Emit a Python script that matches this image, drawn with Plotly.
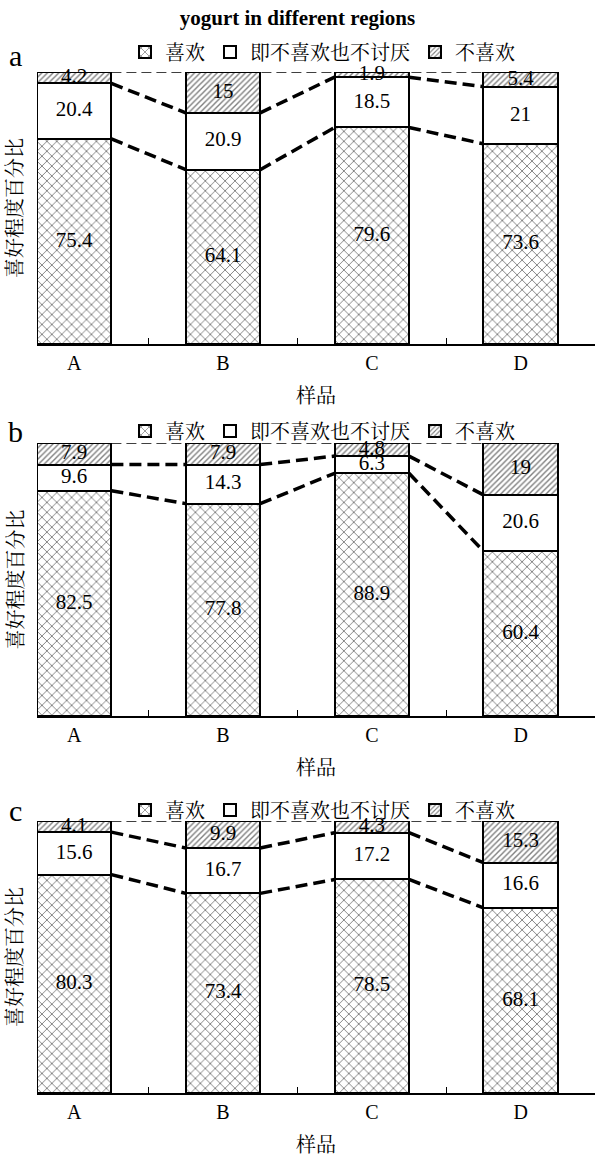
import plotly.graph_objects as go

categories = ["A", "B", "C", "D"]
series_names = ["喜欢", "即不喜欢也不讨厌", "不喜欢"]

like_a = [75.4, 64.1, 79.6, 73.6]
neutral_a = [20.4, 20.9, 18.5, 21]
dislike_a = [4.2, 15, 1.9, 5.4]

like_b = [82.5, 77.8, 88.9, 60.4]
neutral_b = [9.6, 14.3, 6.3, 20.6]
dislike_b = [7.9, 7.9, 4.8, 19]

like_c = [80.3, 73.4, 78.5, 68.1]
neutral_c = [15.6, 16.7, 17.2, 16.6]
dislike_c = [4.1, 9.9, 4.3, 15.3]

panel_labels = ["a", "b", "c"]
panels = [(like_a, neutral_a, dislike_a), (like_b, neutral_b, dislike_b), (like_c, neutral_c, dislike_c)]

H = 1155.0
SERIF = "Liberation Serif, Times New Roman, Noto Serif CJK SC, Noto Sans CJK SC, serif"
# pixel positions (top, bottom) of each panel's plot area
panel_px = [(72, 344), (443, 716), (821, 1093)]
legend_px = [52, 431, 810]
letter_px = [55, 431, 810]
BAR_W = 0.5

fig = go.Figure()
xs = list(range(len(categories)))

patterns = [
    dict(shape="x", size=7, solidity=0.25, fgcolor="#000", bgcolor="white"),
    None,
    dict(shape="/", size=4, solidity=0.35, fgcolor="#000", bgcolor="white"),
]

for p, (like, neutral, dislike) in enumerate(panels):
    sfx = "" if p == 0 else str(p + 1)
    xa, ya = "x" + sfx, "y" + sfx
    lg = "legend" + sfx
    base = [0.0] * len(xs)
    for s, vals in enumerate([like, neutral, dislike]):
        marker = dict(color="white", line=dict(color="black", width=2))
        if patterns[s] is not None:
            marker["pattern"] = patterns[s]
        fig.add_trace(go.Bar(
            x=xs, y=vals, width=BAR_W, name=series_names[s],
            marker=marker, xaxis=xa, yaxis=ya, legend=lg,
            showlegend=True, hoverinfo="skip",
        ))
        mids = [b + v / 2 for b, v in zip(base, vals)]
        fig.add_trace(go.Scatter(
            x=xs, y=mids, mode="text", text=[f"{v:g}" for v in vals],
            textposition="middle center", xaxis=xa, yaxis=ya, cliponaxis=False,
            textfont=dict(family=SERIF, size=21, color="black"),
            showlegend=False, hoverinfo="skip",
        ))
        base = [b + v for b, v in zip(base, vals)]
    cum1 = like
    cum2 = [a + b for a, b in zip(like, neutral)]
    for cum in (cum1, cum2):
        lx, ly = [], []
        for i in range(len(xs) - 1):
            lx += [xs[i] + BAR_W / 2, xs[i + 1] - BAR_W / 2, None]
            ly += [cum[i], cum[i + 1], None]
        fig.add_trace(go.Scatter(x=lx, y=ly, mode="lines", xaxis=xa, yaxis=ya,
                                 line=dict(color="black", width=3.5, dash="12px,6px"),
                                 showlegend=False, hoverinfo="skip"))
    tot = base
    fig.add_trace(go.Scatter(x=[xs[0] + BAR_W / 2, xs[-1] - BAR_W / 2], y=[tot[0], tot[-1]],
                             mode="lines", xaxis=xa, yaxis=ya,
                             line=dict(color="black", width=1.5, dash="10px,5px"),
                             showlegend=False, hoverinfo="skip"))

layout = dict(
    width=595, height=1155,
    margin=dict(l=37, r=0, t=0, b=0),
    paper_bgcolor="white", plot_bgcolor="white",
    barmode="stack", bargap=0,
    font=dict(family=SERIF, size=20, color="black"),
    title=dict(text="<b>yogurt in different regions</b>", x=0.5, xref="container",
               y=1 - 18 / H, yref="container", yanchor="middle", xanchor="center",
               font=dict(family=SERIF, size=21, color="black")),
    annotations=[],
)

for p in range(3):
    sfx = "" if p == 0 else str(p + 1)
    top, bot = panel_px[p]
    layout["xaxis" + sfx] = dict(
        domain=[0, 1], anchor="y" + sfx, range=[-0.25, 3.5],
        tickvals=xs, ticktext=categories, ticks="", showgrid=False, zeroline=False,
        showline=True, linecolor="black", linewidth=1.5,
        tickfont=dict(family=SERIF, size=20, color="black"),
        minor=dict(tickvals=[0.5, 1.5, 2.5], ticks="inside", ticklen=6, tickcolor="black", tickwidth=1),
    )
    layout["yaxis" + sfx] = dict(
        domain=[1 - bot / H, 1 - top / H], anchor="x" + sfx, range=[0, 100],
        showticklabels=False, showgrid=False, zeroline=False, showline=False, ticks="",
    )
    layout["legend" + sfx] = dict(
        orientation="h", x=(125 - 37) / 558, xanchor="left",
        y=1 - legend_px[p] / H, yanchor="middle", yref="paper",
        font=dict(family=SERIF, size=20, color="black"),
        bgcolor="rgba(0,0,0,0)", itemclick=False, traceorder="normal",
    )
    xd, yd = "x" + sfx + " domain", "y" + sfx + " domain"
    layout["annotations"] += [
        dict(text="样品", xref=xd, yref=yd, x=0.5, y=0, yshift=-52, showarrow=False,
             xanchor="center", yanchor="middle", font=dict(family=SERIF, size=20, color="black")),
        dict(text="喜好程度百分比", xref=xd, yref=yd, x=0, y=0.5, xshift=-22, textangle=-90,
             showarrow=False, xanchor="center", yanchor="middle",
             font=dict(family=SERIF, size=20, color="black")),
        dict(text=panel_labels[p], xref=xd, yref="paper", x=0, xshift=-22, y=1 - letter_px[p] / H,
             showarrow=False, xanchor="center", yanchor="middle",
             font=dict(family=SERIF, size=30, color="black")),
    ]

fig.update_layout(**layout)
fig.write_html("out.html", config={"displayModeBar": False},
               post_script="document.body.style.margin='0';")
